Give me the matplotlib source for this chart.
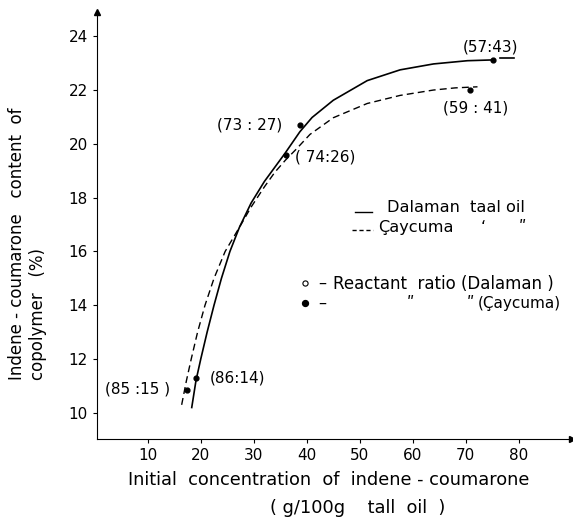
import matplotlib.pyplot as plt

# curves
dal_x = [18.3, 19.1, 20.0, 21.2, 22.5, 23.9, 25.5, 27.3, 29.5, 32.0, 35.9, 38.7, 41.0, 45.0, 51.4, 57.6, 63.9, 70.3, 75.2]
dal_y = [10.2, 11.2, 12.0, 13.0, 14.0, 15.0, 16.0, 16.9, 17.8, 18.6, 19.65, 20.45, 20.98, 21.62, 22.35, 22.75, 22.97, 23.09, 23.12]
cay_x = [16.4, 17.3, 18.2, 19.4, 20.8, 22.5, 24.6, 27.3, 29.5, 32.0, 34.0, 36.0, 38.0, 40.6, 45.0, 51.4, 57.6, 63.9, 68.0, 72.2]
cay_y = [10.3, 11.2, 12.0, 13.0, 14.0, 15.0, 16.0, 16.9, 17.65, 18.4, 18.95, 19.4, 19.8, 20.35, 20.97, 21.5, 21.8, 22.0, 22.08, 22.12]
tail_x = [76.5, 79.0]
tail_y = [23.2, 23.2]

# reactant ratio points
pt_x = [17.4, 19.1, 38.7, 36.1, 75.2, 70.7]
pt_y = [10.85, 11.3, 20.7, 19.6, 23.1, 22.0]
pt_lab = ['(85 :15 )', '(86:14)', '(73 : 27)', '( 74:26)', '(57:43)', '(59 : 41)']
lab_x = [8.1, 27.0, 29.3, 43.5, 74.6, 71.8]
lab_y = [10.9, 11.3, 20.7, 19.5, 23.6, 21.34]

xticks = [10, 20, 30, 40, 50, 60, 70, 80]
yticks = [10, 12, 14, 16, 18, 20, 22, 24]

plt.rcParams['font.family'] = 'DejaVu Sans'
fig = plt.figure(figsize=(5.73, 5.22), dpi=100)
ax = fig.add_axes([0.169, 0.159, 0.829, 0.818])

ax.plot(dal_x, dal_y, color='black', lw=1.2)
ax.plot(tail_x, tail_y, color='black', lw=1.2)
ax.plot(cay_x, cay_y, color='black', lw=1.0, dashes=(5, 3))
ax.scatter(pt_x, pt_y, s=12, color='black', zorder=3)
for t, x, y in zip(pt_lab, lab_x, lab_y):
    ax.text(x, y, t, ha='center', va='center', fontsize=11)

# legend drawn by hand like the original
fs = 11.6
ax.plot([49.1, 52.3], [17.47, 17.47], color='black', lw=1.0)
ax.text(55.2, 17.62, 'Dalaman  taal oil', fontsize=fs, va='center')
ax.plot([48.6, 52.5], [16.8, 16.8], color='black', lw=1.0, dashes=(3, 2))
ax.text(53.5, 16.9, 'Çaycuma', fontsize=fs, va='center')
ax.text(73.3, 16.9, '\u02bb', fontsize=fs, va='center', ha='center')
ax.text(80.7, 16.9, '\u02ba', fontsize=fs, va='center', ha='center')
ax.scatter([39.7], [14.83], s=14, facecolor='white', edgecolor='black', lw=0.8)
ax.text(42.9, 14.8, '–', fontsize=fs, va='center', ha='center')
ax.text(45.0, 14.8, 'Reactant  ratio (Dalaman )', fontsize=12, va='center')
ax.scatter([39.7], [14.09], s=18, color='black')
ax.text(42.9, 14.07, '–', fontsize=fs, va='center', ha='center')
ax.text(59.5, 14.07, '\u02ba', fontsize=fs, va='center', ha='center')
ax.text(70.9, 14.07, '\u02ba', fontsize=fs, va='center', ha='center')
ax.text(87.9, 14.07, '(Çaycuma)', fontsize=11, va='center', ha='right')

ax.set_xlim(0.4, 90)
ax.set_ylim(9.03, 24.9)
ax.set_xticks(xticks)
ax.set_yticks(yticks)
ax.tick_params(direction='out', length=3, labelsize=11)
for s in ['top', 'right']:
    ax.spines[s].set_visible(False)
ax.plot(1, 0, '>k', transform=ax.transAxes, clip_on=False, ms=5)
ax.plot(0, 1, '^k', transform=ax.transAxes, clip_on=False, ms=5)

fig.text(0.030, 0.272, 'Indene - coumarone   content  of', rotation=90, ha='center', va='bottom', fontsize=12)
fig.text(0.066, 0.272, 'copolymer   (%)', rotation=90, ha='center', va='bottom', fontsize=12)
fig.text(0.574, 0.08, 'Initial  concentration  of  indene - coumarone', ha='center', va='center', fontsize=12.8)
fig.text(0.624, 0.027, '( g/100g    tall  oil  )', ha='center', va='center', fontsize=12.8)

plt.savefig('out.png', dpi=100)
